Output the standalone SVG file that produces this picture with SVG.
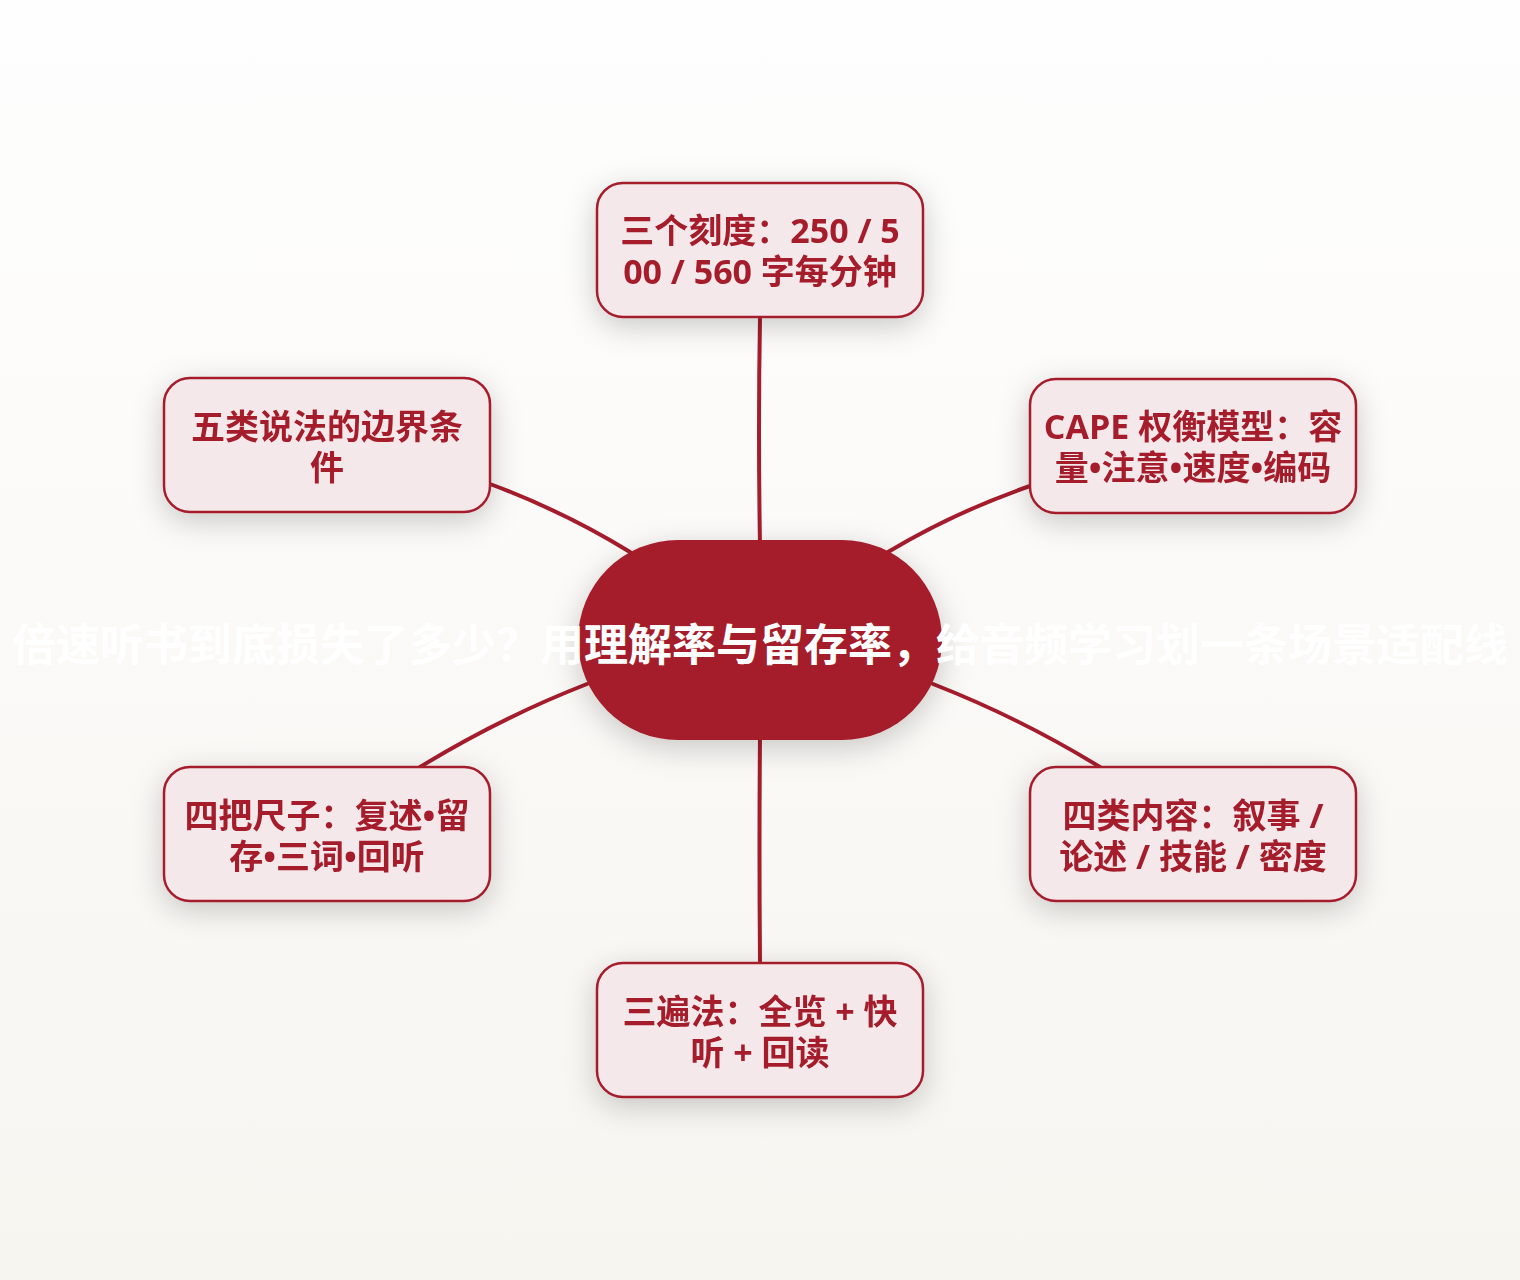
<svg xmlns="http://www.w3.org/2000/svg" width="1520" height="1280" viewBox="0 0 1520 1280">
  <defs>
    <linearGradient id="bg" x1="0" y1="0" x2="0" y2="1">
      <stop offset="0" stop-color="#fefefe"/>
      <stop offset="1" stop-color="#f7f5f0"/>
    </linearGradient>
    <filter id="shadow" x="-30%" y="-30%" width="160%" height="170%">
      <feDropShadow dx="0" dy="8" stdDeviation="15" flood-color="#000" flood-opacity="0.2"/>
    </filter>
    <style>
      .node rect { fill: #f5e8ea; stroke: #a51c2c; stroke-width: 2.5; }
      .node text { font-family: "Open Sans", "Noto Sans CJK SC", sans-serif; font-weight: 700; font-size: 34px; fill: #a51c2c; text-anchor: middle; dominant-baseline: central; }
      .conn path { fill: none; stroke: #a51c2c; stroke-width: 4; stroke-linecap: round; }
      .center text { font-family: "Noto Sans CJK SC", "Noto Sans", sans-serif; font-weight: 700; font-size: 44px; fill: #ffffff; text-anchor: middle; dominant-baseline: central; }
    </style>
  </defs>
  <rect x="0" y="0" width="1520" height="1280" fill="url(#bg)"/>

  <g id="connectors" class="conn">
    <path d="M760,545 Q758,430 760,317"/>
    <path d="M630,552 Q565,512 490,484"/>
    <path d="M888,552 Q955,512 1030,486"/>
    <path d="M587,684 Q500,718 420,767"/>
    <path d="M933,684 Q1020,718 1100,767"/>
    <path d="M760,735 Q759,850 760,963"/>
  </g>

  <g id="node-top" class="node" filter="url(#shadow)">
    <rect x="597" y="183" width="326" height="134" rx="26"/>
    <text x="760" y="230">三个刻度：250 / 5</text>
    <text x="760" y="271">00 / 560 字每分钟</text>
  </g>
  <g id="node-right-top" class="node" filter="url(#shadow)">
    <rect x="1030" y="379" width="326" height="134" rx="26"/>
    <text x="1193" y="426">CAPE 权衡模型：容</text>
    <text x="1193" y="467">量•注意•速度•编码</text>
  </g>
  <g id="node-left-top" class="node" filter="url(#shadow)">
    <rect x="164" y="378" width="326" height="134" rx="26"/>
    <text x="327" y="426">五类说法的边界条</text>
    <text x="327" y="467">件</text>
  </g>
  <g id="node-left-bottom" class="node" filter="url(#shadow)">
    <rect x="164" y="767" width="326" height="134" rx="26"/>
    <text x="327" y="815">四把尺子：复述•留</text>
    <text x="327" y="856">存•三词•回听</text>
  </g>
  <g id="node-right-bottom" class="node" filter="url(#shadow)">
    <rect x="1030" y="767" width="326" height="134" rx="26"/>
    <text x="1193" y="815">四类内容：叙事 /</text>
    <text x="1193" y="856">论述 / 技能 / 密度</text>
  </g>
  <g id="node-bottom" class="node" filter="url(#shadow)">
    <rect x="597" y="963" width="326" height="134" rx="26"/>
    <text x="760" y="1011">三遍法：全览 + 快</text>
    <text x="760" y="1052">听 + 回读</text>
  </g>

  <g id="node-center" class="center">
    <rect x="578" y="540" width="364" height="200" rx="100" fill="#a51c2c" filter="url(#shadow)"/>
    <text x="760" y="642">倍速听书到底损失了多少？用理解率与留存率，给音频学习划一条场景适配线</text>
  </g>
</svg>
